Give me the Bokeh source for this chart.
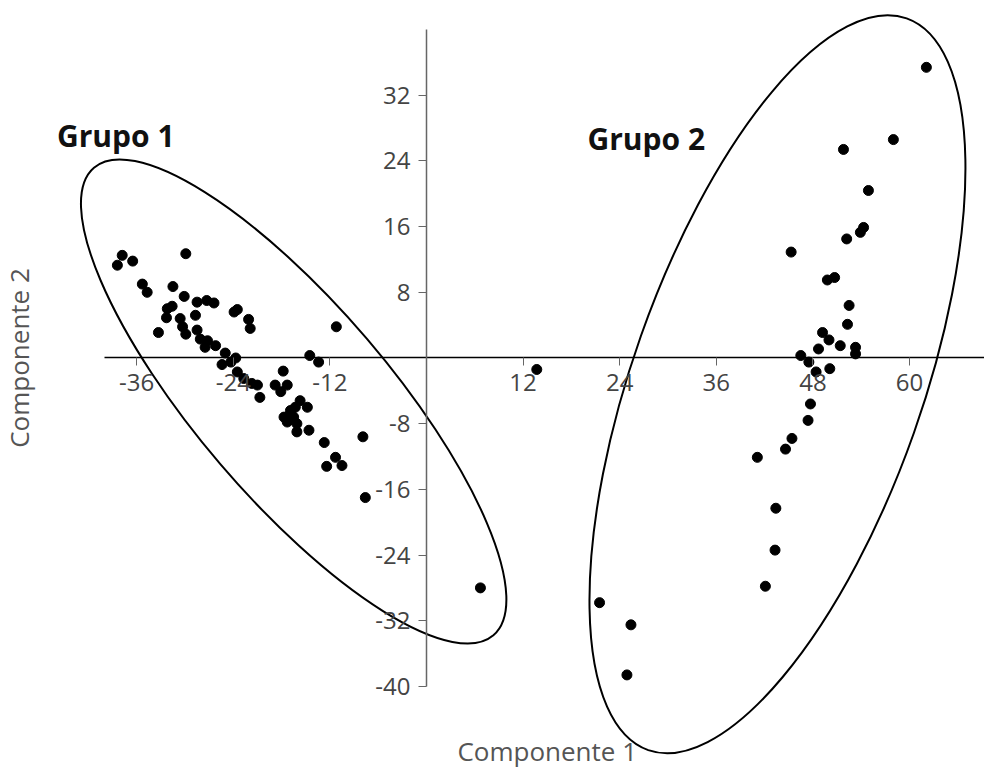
from bokeh.plotting import figure
from bokeh.models import FixedTicker, Label
from bokeh.embed import file_html
from bokeh.resources import INLINE
import math

# ---------------- data ----------------
g1_x = [-37.8, -38.4, -36.5, -29.9, -35.3, -34.7, -31.5, -30.1, -28.5, -27.3,
        -26.4, -32.2, -31.6, -32.3, -28.7, -23.9, -23.5, -22.1, -21.9, -33.3,
        -30.6, -30.3, -29.9, -28.5, -28.1, -27.2, -27.5, -26.2, -25.0, -23.7,
        -25.4, -24.3, -23.5, -22.7, -21.7, -21.0, -20.7, -17.8, -18.8, -18.1,
        -17.3, -14.5, -13.4, -11.2, -15.7, -14.8, -16.3, -16.9, -17.7, -17.1,
        -16.5, -17.3, -16.1, -16.1, -14.6, -12.7, -7.9, -11.3, -12.4, -10.5,
        -7.6, 6.7]
g1_y = [12.5, 11.3, 11.8, 12.7, 9.0, 8.0, 8.7, 7.5, 6.8, 7.0,
        6.7, 6.0, 6.3, 4.9, 5.2, 5.6, 5.9, 4.7, 3.6, 3.1,
        4.8, 3.8, 2.9, 3.4, 2.3, 2.1, 1.3, 1.5, 0.6, 0.0,
        -0.8, -0.5, -1.7, -2.5, -3.1, -3.3, -4.8, -1.6, -3.3, -4.1,
        -3.3, 0.3, -0.5, 3.8, -5.2, -6.0, -6.0, -6.4, -7.2, -7.2,
        -7.2, -7.8, -8.0, -9.0, -8.8, -10.3, -9.6, -12.1, -13.2, -13.1,
        -17.0, -28.0]

g2_x = [62.1, 58.0, 51.8, 54.9, 54.3, 53.9, 52.2, 45.3, 49.8, 50.7,
        52.5, 52.3, 49.2, 50.0, 48.7, 51.4, 53.3, 53.3, 46.5, 47.5,
        48.4, 50.1, 47.7, 47.4, 45.4, 44.6, 41.1, 43.4, 43.3, 42.1,
        21.5, 25.4, 24.9]
g2_y = [35.4, 26.6, 25.4, 20.4, 15.9, 15.3, 14.5, 12.9, 9.5, 9.8,
        6.4, 4.1, 3.1, 2.2, 1.1, 1.5, 1.3, 0.5, 0.3, -0.5,
        -1.7, -1.3, -5.6, -7.6, -9.8, -11.1, -12.1, -18.3, -23.4, -27.8,
        -29.8, -32.5, -38.6]

other_x = [13.7]
other_y = [-1.4]

x_ticks = [-36, -24, -12, 12, 24, 36, 48, 60]
y_ticks = [-40, -32, -24, -16, -8, 8, 16, 24, 32]

group_names = ["Grupo 1", "Grupo 2"]
x_title = "Componente 1"
y_title = "Componente 2"

# group ellipses (centre, axes, rotation in degrees)
ell_cx = [-16.5, 43.6]
ell_cy = [-5.3, -3.2]
ell_w = [76.4, 96.4]
ell_h = [23.5, 35.3]
ell_angle_deg = [-49.5, 70.55]

# ---------------- figure ----------------
FONT = "Open Sans"
p = figure(width=984, height=769, output_backend="svg", toolbar_location=None,
           x_range=(-52.92, 69.32), y_range=(-50.12, 43.54),
           min_border_left=0, min_border_right=0, min_border_top=0, min_border_bottom=0)
p.outline_line_color = None
p.grid.visible = False
p.background_fill_color = "white"
p.border_fill_color = "white"

# axes crossing at the origin
p.xaxis.fixed_location = 0
p.yaxis.fixed_location = 0
p.xaxis.ticker = FixedTicker(ticks=x_ticks)
p.yaxis.ticker = FixedTicker(ticks=y_ticks)
p.xaxis.major_label_overrides = {t: str(t) for t in x_ticks}
p.yaxis.major_label_overrides = {t: str(t) for t in y_ticks}
p.xaxis.bounds = (-40, 80)
p.yaxis.bounds = (-40, 40)
for ax in (p.xaxis, p.yaxis):
    ax.major_label_text_font = FONT
    ax.major_label_text_font_size = "24px"
    ax.major_label_text_color = "#444444"
    ax.major_tick_in = 0
    ax.major_tick_out = 8
    ax.major_tick_line_color = "#666666"
    ax.minor_tick_line_color = None
    ax.major_label_standoff = 8
p.xaxis.axis_line_color = "black"
p.xaxis.axis_line_width = 1.5
p.yaxis.axis_line_color = "#666666"
p.yaxis.axis_line_width = 1.5

# ellipses
p.ellipse(x=ell_cx, y=ell_cy, width=ell_w, height=ell_h,
          angle=[math.radians(a) for a in ell_angle_deg],
          fill_color=None, line_color="black", line_width=2)

# points
p.scatter(g1_x, g1_y, size=10, color="black")
p.scatter(g2_x, g2_y, size=10, color="black")
p.scatter(other_x, other_y, size=10, color="black")

# group labels
p.add_layout(Label(x=-45.9, y=27.1, text=group_names[0], text_font=FONT,
                   text_font_size="30px", text_font_style="bold", text_color="#111111",
                   text_baseline="middle"))
p.add_layout(Label(x=20.0, y=26.75, text=group_names[1], text_font=FONT,
                   text_font_size="30px", text_font_style="bold", text_color="#111111",
                   text_baseline="middle"))

# axis titles
p.add_layout(Label(x=15.0, y=-47.9, text=x_title, text_font=FONT,
                   text_font_size="26px", text_color="#555555",
                   text_align="center", text_baseline="middle"))
p.add_layout(Label(x=-50.6, y=0.0, text=y_title, text_font=FONT,
                   text_font_size="26px", text_color="#555555", angle=math.pi / 2,
                   text_align="center", text_baseline="middle"))

open("out.html", "w").write(file_html(p, INLINE))
